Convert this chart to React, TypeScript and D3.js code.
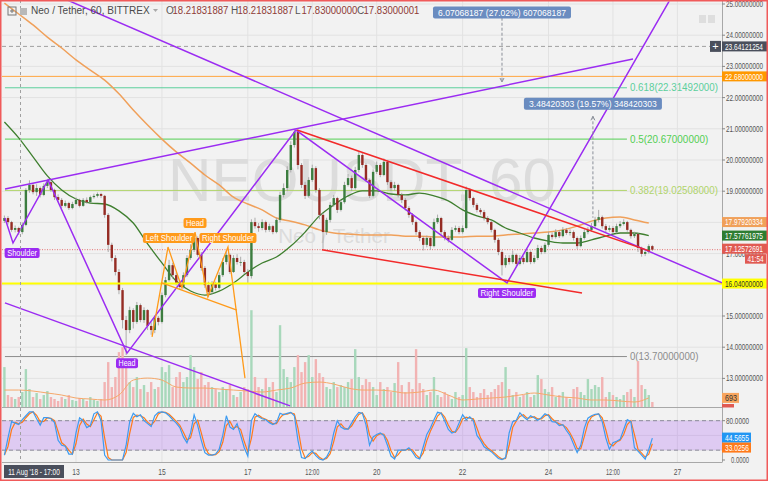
import React from "react";
import * as d3 from "d3";

const W = 768;
const H = 481;
const HOUR = 3600e3;
const T0 = Date.UTC(2018, 7, 11, 8); // first 2h candle
const AUG13 = Date.UTC(2018, 7, 13);
const AUG27 = Date.UTC(2018, 7, 27);
const FONT = "'Liberation Sans', Arial, sans-serif";

const firstOpen = 18.05;
const closes = [
  18.14, 18.01, 17.76, 17.82, 17.69, 17.92, 19.04, 19.2, 18.97, 19.1,
  18.88, 19.17, 19.29, 19.04, 18.81, 18.72, 18.53, 18.62, 18.46, 18.59,
  18.72, 18.53, 18.72, 18.65, 18.81, 18.85, 18.91, 18.85, 18.24, 17.28,
  16.86, 16.41, 15.83, 14.87, 14.55, 15.19, 14.81, 15.35, 14.87, 15.19,
  14.68, 14.55, 14.94, 14.81, 15.67, 16.15, 16.63, 16.31, 16.06, 15.93,
  16.31, 16.86, 17.12, 17.5, 16.96, 16.54, 15.99, 15.77, 16.03, 15.9,
  16.31, 16.73, 16.96, 16.41, 16.86, 16.73, 16.73, 16.41, 16.28, 18.01,
  17.88, 17.82, 18.01, 17.76, 17.88, 17.69, 18.08, 18.88, 19.1, 19.68,
  20.48, 20.9, 19.84, 19.2, 18.85, 19.36, 19.74, 19.04, 18.24, 17.69,
  18.08, 18.56, 18.78, 18.4, 18.65, 19.2, 19.42, 19.1, 19.68, 20.16,
  19.84, 19.36, 18.85, 19.62, 19.84, 19.52, 19.94, 19.29, 19.1, 19.2,
  18.88, 18.72, 18.46, 18.24, 18.01, 17.69, 17.5, 17.28, 17.5, 17.24,
  18.01, 18.14, 17.69, 17.5, 17.44, 17.76, 17.82, 17.69, 17.82, 19.04,
  18.78, 18.56, 18.4, 18.33, 18.14, 18.01, 17.76, 17.44, 17.05, 16.63,
  16.86, 16.73, 16.96, 16.67, 16.86, 16.73, 17.05, 16.73, 16.86, 17.18,
  17.05, 17.28, 17.6, 17.53, 17.69, 17.56, 17.76, 17.66, 17.69, 17.5,
  17.24, 17.5, 17.69, 17.76, 17.88, 18.08, 18.17, 17.88, 17.76, 17.82,
  17.69, 17.88, 17.95, 18.01, 17.76, 17.56, 17.63, 17.18, 16.99, 17.05,
  17.24, 17.12572691,
];
const highs = [
  18.22, 18.2, 18.05, 17.9, 17.86, 18.0, 19.1, 19.35, 19.25, 19.22,
  19.15, 19.25, 19.36, 19.32, 19.08, 18.9, 18.78, 18.7, 18.66, 18.66,
  18.8, 18.76, 18.78, 18.8, 18.86, 18.92, 18.96, 18.95, 18.88, 18.3,
  17.35, 16.95, 16.5, 15.9, 15.0, 15.3, 15.25, 15.45, 15.4, 15.28,
  15.22, 14.8, 15.02, 15.0, 15.75, 16.25, 16.8, 16.7, 16.4, 16.15,
  16.4, 16.95, 17.3, 17.6, 17.55, 17.05, 16.6, 16.1, 16.12, 16.1,
  16.4, 16.85, 17.1, 17.0, 16.95, 16.98, 16.9, 16.8, 16.5, 18.1,
  18.15, 17.98, 18.1, 18.06, 17.96, 17.92, 18.15, 18.98, 19.25, 19.8,
  20.6, 21.0, 20.95, 19.9, 19.3, 19.45, 19.85, 19.8, 19.1, 18.3,
  18.15, 18.65, 18.88, 18.82, 18.72, 19.3, 19.55, 19.5, 19.78, 20.26,
  20.22, 19.9, 19.4, 19.7, 19.95, 19.9, 20.05, 19.98, 19.35, 19.3,
  19.24, 18.95, 18.78, 18.52, 18.3, 18.06, 17.75, 17.55, 17.58, 17.55,
  18.12, 18.25, 18.18, 17.75, 17.58, 17.85, 17.9, 17.88, 17.9, 19.15,
  19.1, 18.82, 18.62, 18.46, 18.4, 18.2, 18.06, 17.8, 17.5, 17.1,
  16.95, 16.95, 17.1, 17.0, 16.95, 16.92, 17.15, 17.1, 16.95, 17.28,
  17.25, 17.35, 17.7, 17.68, 17.78, 17.75, 17.85, 17.82, 17.78, 17.74,
  17.55, 17.58, 17.78, 17.85, 17.98, 18.18, 18.4, 18.22, 17.95, 17.9,
  17.88, 17.96, 18.04, 18.1, 18.05, 17.8, 17.7, 17.66, 17.22, 17.12,
  17.3, 17.28,
];
const lows = [
  17.98, 17.93, 17.7, 17.68, 17.6, 17.62, 17.88, 18.95, 18.9, 18.85,
  18.8, 18.84, 19.1, 18.98, 18.72, 18.65, 18.45, 18.48, 18.4, 18.42,
  18.55, 18.48, 18.5, 18.6, 18.62, 18.76, 18.8, 18.78, 18.15, 17.05,
  16.75, 16.3, 15.7, 14.6, 13.75, 14.45, 14.6, 14.75, 14.8, 14.78,
  14.55, 14.4, 14.45, 14.7, 14.76, 15.6, 16.1, 16.2, 15.98, 15.85,
  15.88, 16.25, 16.8, 17.05, 16.9, 16.45, 15.9, 15.62, 15.7, 15.82,
  15.85, 16.25, 16.65, 16.35, 16.38, 16.65, 16.6, 16.35, 16.05, 16.2,
  17.8, 17.7, 17.75, 17.68, 17.7, 17.62, 17.65, 18.0, 18.8, 19.0,
  19.6, 20.4, 19.7, 19.1, 18.75, 18.8, 19.3, 18.95, 18.1, 17.15,
  17.6, 18.0, 18.5, 18.3, 18.35, 18.6, 19.15, 19.0, 19.05, 19.6,
  19.75, 19.3, 18.78, 18.8, 19.55, 19.45, 19.48, 19.2, 19.0, 19.02,
  18.8, 18.62, 18.38, 18.15, 17.92, 17.6, 17.4, 17.1, 17.2, 17.12,
  17.2, 17.95, 17.6, 17.42, 17.35, 17.4, 17.7, 17.62, 17.64, 17.78,
  18.7, 18.48, 18.32, 18.25, 18.06, 17.94, 17.68, 17.35, 16.95, 16.3,
  16.55, 16.65, 16.68, 16.6, 16.62, 16.66, 16.7, 16.66, 16.68, 16.8,
  16.98, 17.0, 17.22, 17.45, 17.48, 17.5, 17.52, 17.6, 17.58, 17.42,
  17.15, 17.2, 17.45, 17.62, 17.7, 17.82, 18.0, 17.8, 17.68, 17.7,
  17.62, 17.65, 17.82, 17.9, 17.7, 17.48, 17.5, 17.05, 16.9, 16.92,
  17.0, 17.08,
];
const volumes = [
  3040, 912, 760, 608, 760, 1140, 2888, 1368, 760, 1064,
  608, 912, 1216, 760, 608, 456, 760, 608, 912, 532,
  456, 684, 608, 456, 760, 532, 456, 608, 1900, 3420,
  1520, 2280, 4180, 4560, 3572, 1900, 1520, 2280, 1368, 1672,
  1140, 1900, 1368, 1520, 3040, 2660, 3192, 1520, 2280, 2660,
  1900, 2280, 3952, 3040, 2128, 2660, 1672, 1900, 1520, 1368,
  1140, 1520, 1368, 1672, 912, 760, 1140, 1520, 1368, 7372,
  2280, 1520, 1368, 2204, 1520, 1900, 1140, 6232, 2888, 2280,
  1900, 3040, 3952, 2660, 3420, 3952, 2280, 3648, 2584, 2280,
  1520, 1368, 1900, 1520, 1672, 1520, 1900, 2128, 4408, 2280,
  1672, 2128, 1900, 1520, 912, 1900, 1368, 1520, 1140, 1824,
  3420, 1672, 1140, 1900, 1368, 4408, 1824, 1368, 912, 1140,
  2280, 912, 760, 1140, 912, 608, 1140, 760, 912, 4484,
  1520, 1140, 760, 1064, 1368, 912, 1140, 1368, 1672, 1900,
  3040, 1368, 912, 1140, 760, 912, 1140, 760, 912, 2432,
  2128, 1368, 1140, 1520, 760, 912, 1140, 760, 608, 1368,
  1520, 1140, 912, 2128, 1368, 1672, 1520, 2280, 760, 1140,
  912, 760, 608, 912, 1140, 1368, 760, 3496, 1672, 1368,
  912, 380,
];
const stochK = [
  10, 45, 78, 75, 72, 82, 90, 98, 98, 84,
  71, 86, 86, 84, 76, 40, 30, 28, 12, 12,
  55, 86, 80, 66, 70, 94, 98, 80, 10, 0,
  0, 0, 0, 0, 30, 78, 95, 88, 92, 80,
  74, 68, 90, 97, 98, 96, 90, 82, 75, 66,
  47, 35, 55, 92, 70, 40, 15, 10, 10, 12,
  22, 50, 90, 67, 62, 74, 50, 25, 8, 80,
  94, 88, 84, 82, 76, 72, 76, 95, 92, 95,
  97, 90, 40, 5, 3, 12, 18, 9, 2, 0,
  6, 20, 55, 80, 67, 63, 63, 75, 88, 97,
  95, 72, 30, 47, 52, 55, 50, 30, 8, 2,
  20, 20, 20, 25, 16, 5, 2, 27, 52, 65,
  82, 97, 95, 80, 62, 55, 58, 75, 92, 82,
  88, 80, 50, 40, 27, 22, 17, 10, 3, 1,
  5, 55, 78, 81, 96, 88, 82, 90, 86, 81,
  86, 94, 90, 78, 77, 70, 72, 60, 50, 32,
  15, 30, 65, 85, 90, 93, 94, 78, 45, 22,
  35, 38, 42, 62, 82, 78, 25, 18, 10, 2,
  21.4857, 44.5655,
];
// moving averages, sampled every 8 hours from the first candle
const ma50 = [
  21.22, 20.71, 20.1, 19.49, 19.04, 18.75, 18.62, 18.59, 18.37, 17.98,
  17.31, 16.7, 16.12, 15.8, 15.67, 15.8, 16.06, 16.41, 16.7, 16.89,
  17.24, 17.69, 18.21, 18.56, 18.85, 19.01, 19.01, 18.91, 18.88, 18.94,
  18.85, 18.69, 18.4, 18.21, 18.08, 17.82, 17.66, 17.5, 17.4, 17.34,
  17.34, 17.44, 17.56, 17.66, 17.66, 17.57761975,
];
const ma200 = [
  25.03, 24.68, 24.33, 23.94, 23.59, 23.21, 22.88, 22.56, 22.12, 21.6,
  21.12, 20.67, 20.26, 19.9, 19.52, 19.2, 18.81, 18.59, 18.4, 18.14,
  18.04, 17.92, 17.76, 17.66, 17.63, 17.6, 17.6, 17.6, 17.56, 17.56,
  17.53, 17.53, 17.53, 17.56, 17.56, 17.6, 17.63, 17.66, 17.69, 17.76,
  17.88, 18.04, 18.14, 18.17, 18.08, 17.97920334,
];
const volMA = [
  1292, 1292, 1216, 1064, 912, 684, 608, 532, 912, 2052,
  2204, 2052, 1520, 1444, 1444, 1368, 1292, 1216, 1140, 1292,
  1444, 1824, 1900, 1748, 1444, 1292, 1292, 1216, 1064, 1140,
  1292, 912, 532, 608, 684, 760, 912, 1064, 912, 760,
  684, 532, 532, 456, 380, 693,
];

const priceTicks = [13, 14, 15, 16, 17, 18, 19, 20, 21, 22, 23, 24, 25];
const timeTicks = [
  Date.UTC(2018, 7, 13), Date.UTC(2018, 7, 15), Date.UTC(2018, 7, 17),
  Date.UTC(2018, 7, 18, 12), Date.UTC(2018, 7, 20), Date.UTC(2018, 7, 22),
  Date.UTC(2018, 7, 24), Date.UTC(2018, 7, 25, 12), Date.UTC(2018, 7, 27),
];
const timeLabels = ["13", "15", "17", "12:00", "20", "22", "24", "12:00", "27"];

// fib retracement levels: [label, price, color]
const fibLevels: [string, number, string][] = [
  ["0.618(22.31492000)", 22.31492, "#5ccf9c"],
  ["0.5(20.67000000)", 20.67, "#52cf52"],
  ["0.382(19.02508000)", 19.02508, "#b0d46a"],
  ["0(13.70000000)", 13.7, "#8c8c8c"],
];
const fibRange = [-39.7, 307.8]; // hours from Aug 13

// drawings as [hours from Aug 13, price]
const purpleLines: [number, number][][] = [
  [[-39.66, 19.07], [311.2, 23.24]],
  [[-5.03, 25.13], [360.9, 16.06]],
  [[-39.7, 15.42], [119.6, 12.12]],
];
const purpleZigzag: [number, number][] = [
  [-39.7, 18.14], [-35.2, 17.34], [-15.6, 19.36], [28.5, 13.81],
  [122.9, 20.96], [240.8, 16.06], [331.8, 25.13],
];
const redLines: [number, number][][] = [
  [[123.5, 20.96], [320.7, 17.08]],
  [[137.4, 17.12], [282.7, 15.74]],
];
const orangeHS: [number, number][] = [
  [42.5, 14.33], [51.4, 17.21], [59.2, 15.9], [66.5, 17.69],
  [73.7, 15.61], [84.9, 17.21], [94.4, 13.01],
];
const orangeNeck: [number, number][] = [[48.0, 16.06], [89.9, 15.19]];

// pattern labels: [text, hour, price, above?, width, color]
const patternLabels: [string, number, number, boolean, number, string][] = [
  ["Shoulder", -30.1, 17.34, false, 35, "#9b2cf2"],
  ["Head", 28.5, 13.81, false, 22, "#9b2cf2"],
  ["Right Shoulder", 240.8, 16.06, false, 58, "#9b2cf2"],
  ["Left Shoulder", 51.9, 17.21, true, 52, "#ff9a1a"],
  ["Head", 66.5, 17.69, true, 23, "#ff9a1a"],
  ["Right Shoulder", 84.9, 17.21, true, 57, "#ff9a1a"],
];

// price-range measurements: [text, hour, boxPrice, lineTop, lineBottom, arrowDown]
const measures: [string, number, number, number, number, boolean][] = [
  ["6.07068187 (27.02%) 607068187", 238.0, 24.73, 24.56, 22.5, true],
  ["3.48420303 (19.57%) 348420303", 288.8, 21.8, 21.4, 18.15, false],
];

const crossTime = Date.UTC(2018, 7, 11, 17);
const crossPrice = 23.64121254;
const alertPrice = 22.68;
const supportPrice = 16.04;

let measureCtx: CanvasRenderingContext2D | null = null;
function textWidth(text: string, fs: number): number {
  if (!measureCtx) measureCtx = document.createElement("canvas").getContext("2d");
  if (!measureCtx) return text.length * fs * 0.55;
  measureCtx.font = `${fs}px 'Liberation Sans', Arial, sans-serif`;
  return measureCtx.measureText(text).width;
}

// text squeezed horizontally to a given width (the reference font is narrow)
function SText(props: {
  x: number;
  y: number;
  w: number;
  fs: number;
  text: string;
  fill: string;
  anchor?: "start" | "middle" | "end";
}) {
  const { x, y, w, fs, text, fill, anchor = "start" } = props;
  const sx = Math.min(1.2, w / textWidth(text, fs));
  return (
    <text
      transform={`translate(${x},${y}) scale(${sx},1)`}
      fontSize={fs}
      fill={fill}
      textAnchor={anchor}
    >
      {text}
    </text>
  );
}

export default function App() {
  React.useEffect(() => {
    document.body.style.margin = "0";
  }, []);

  const x = d3.scaleUtc().domain([AUG13, AUG27]).range([76, 677.4]);
  const xh = (h: number) => x(new Date(AUG13 + h * HOUR));
  const y = d3.scaleLinear().domain([13, 25]).range([378.4, 4]);
  const yv = d3.scaleLinear().domain([0, 31000]).range([407, 0]);
  const ys = d3.scaleLinear().domain([0, 100]).range([460, 410.84]);

  const candles = closes.map((c, i) => ({
    t: T0 + i * 2 * HOUR,
    o: i === 0 ? firstOpen : closes[i - 1],
    c,
    h: highs[i],
    l: lows[i],
    v: volumes[i],
  }));
  const stochD = stochK.map((k, i) => (i === 0 ? k : (k + stochK[i - 1]) / 2));

  const maLine = d3
    .line<number>()
    .x((_, i) => x(new Date(T0 + i * 8 * HOUR)))
    .y((d) => y(d))
    .curve(d3.curveMonotoneX);
  const volLine = d3
    .line<number>()
    .x((_, i) => x(new Date(T0 + i * 8 * HOUR)))
    .y((d) => yv(d))
    .curve(d3.curveMonotoneX);
  const stLine = d3
    .line<number>()
    .x((_, i) => x(new Date(T0 + i * 2 * HOUR)))
    .y((d) => ys(d));
  const drawLine = d3
    .line<[number, number]>()
    .x((d) => xh(d[0]))
    .y((d) => y(d[1]));

  const up = "#3c7d3f";
  const down = "#952c24";
  const bw = 2.4;
  const bg = "#f2f2f2";
  const grid = "#e2e2e2";
  const purple = "#9b2cf2";
  const red = "#f22a2a";
  const orange = "#ff9a1a";

  const axisTag = (
    yy: number,
    text: string,
    fill: string,
    fg = "#fff",
    w = 45,
    key?: string
  ) => (
    <g key={key ?? text}>
      <rect x={722} y={yy - 5} width={w} height={10} fill={fill} />
      <SText x={725} y={yy + 3.2} w={w === 45 ? 38 : w - 5} fs={8.8} fill={fg} text={text} />
    </g>
  );

  const lastClose = closes[closes.length - 1];
  const lastK = stochK[stochK.length - 1];
  const lastD = stochD[stochD.length - 1];
  const kTagY = ys(lastK) - 0.5;
  const dTagY = Math.max(ys(lastD), kTagY + 10);
  const closeTagY = y(lastClose) - 1;

  return (
    <svg
      width={W}
      height={H}
      style={{ display: "block", position: "absolute", left: 0, top: 0 }}
      fontFamily={FONT}
    >
      <defs>
        <clipPath id="pp">
          <rect x={2} y={1.5} width={720} height={405.5} />
        </clipPath>
        <clipPath id="sp">
          <rect x={2} y={408} width={720} height={54} />
        </clipPath>
      </defs>
      <rect x={0} y={0} width={W} height={H} fill={bg} />

      {/* grid */}
      {priceTicks.map((p) => (
        <line key={"gp" + p} x1={2} x2={722} y1={y(p)} y2={y(p)} stroke={grid} />
      ))}
      {timeTicks.map((t, i) => (
        <line key={"gt" + i} x1={x(new Date(t))} x2={x(new Date(t))} y1={0} y2={462} stroke={grid} />
      ))}
      {[20, 50, 80].map((v) => (
        <line key={"gs" + v} x1={2} x2={722} y1={ys(v)} y2={ys(v)} stroke={grid} />
      ))}

      {/* watermark */}
      <SText x={362} y={201} w={388} fs={62} fill="#dcdcdc" anchor="middle" text="NEOUSDT, 60" />
      <SText x={334} y={243} w={112} fs={21} fill="#dcdcdc" anchor="middle" text="Neo / Tether" />

      <g clipPath="url(#pp)">
        {/* fib levels */}
        {fibLevels.map(([lab, p, col]) => (
          <g key={lab}>
            <line x1={xh(fibRange[0])} x2={xh(fibRange[1])} y1={y(p)} y2={y(p)} stroke={col} strokeWidth={1} />
            <SText x={xh(fibRange[1]) + 3} y={y(p) + 3.5} w={lab.length * 4.9} fs={10} fill={col} text={lab} />
          </g>
        ))}
        {/* crosshair horizontal */}
        <line x1={2} x2={722} y1={y(crossPrice)} y2={y(crossPrice)} stroke="#a0a0a0" strokeDasharray="4,3" />
        <line x1={2} x2={722} y1={y(alertPrice)} y2={y(alertPrice)} stroke="#ffa640" strokeWidth={1} />
        <line x1={2} x2={722} y1={y(lastClose)} y2={y(lastClose)} stroke="#e57373" strokeDasharray="1,1.5" />

        {/* volume */}
        {candles.map((d, i) => (
          <rect
            key={"v" + i}
            x={x(new Date(d.t)) - bw / 2}
            y={yv(d.v)}
            width={bw}
            height={407 - yv(d.v)}
            fill={d.c >= d.o ? "#a8d8bb" : "#f2b3b3"}
          />
        ))}
        <path d={volLine(volMA) || ""} fill="none" stroke="#f6a86a" strokeWidth={1} />

        {/* moving averages */}
        <path d={maLine(ma200) || ""} fill="none" stroke="#f0a05a" strokeWidth={1.5} />
        <path d={maLine(ma50) || ""} fill="none" stroke="#3f7f2f" strokeWidth={1.3} />

        {/* candles */}
        {candles.map((d, i) => {
          const cx = x(new Date(d.t));
          const col = d.c >= d.o ? up : down;
          const top = y(Math.max(d.o, d.c));
          const bot = y(Math.min(d.o, d.c));
          return (
            <g key={"c" + i}>
              <line x1={cx} x2={cx} y1={y(d.h)} y2={y(d.l)} stroke="#9a9a9a" strokeWidth={0.8} />
              <rect x={cx - bw / 2} y={top} width={bw} height={Math.max(0.8, bot - top)} fill={col} />
            </g>
          );
        })}

        {/* support */}
        <line x1={2} x2={722} y1={y(supportPrice)} y2={y(supportPrice)} stroke="#ffff00" strokeWidth={2} />

        {/* drawings */}
        {purpleLines.map((l, i) => (
          <path key={"pl" + i} d={drawLine(l) || ""} fill="none" stroke={purple} strokeWidth={1.5} />
        ))}
        <path d={drawLine(purpleZigzag) || ""} fill="none" stroke={purple} strokeWidth={1.5} />
        {redLines.map((l, i) => (
          <path key={"rl" + i} d={drawLine(l) || ""} fill="none" stroke={red} strokeWidth={1.5} />
        ))}
        <path d={drawLine(orangeHS) || ""} fill="none" stroke={orange} strokeWidth={1.3} />
        <path d={drawLine(orangeNeck) || ""} fill="none" stroke={orange} strokeWidth={1.3} />

        {/* measurements */}
        {measures.map(([txt, h, bp, lt, lb, down_], i) => {
          const mx = xh(h);
          const ay = down_ ? y(lb) : y(lt);
          return (
            <g key={"m" + i}>
              <line x1={mx} x2={mx} y1={y(lt)} y2={y(lb)} stroke="#8a8f99" strokeDasharray="3,2" />
              <path
                d={down_ ? `M${mx - 2},${ay - 4}L${mx},${ay}L${mx + 2},${ay - 4}` : `M${mx - 2},${ay + 4}L${mx},${ay}L${mx + 2},${ay + 4}`}
                fill="none"
                stroke="#8a8f99"
              />
              <rect x={mx - 69} y={y(bp) - 6} width={138} height={12} rx={2} fill="#6a8cc0" />
              <SText x={mx} y={y(bp) + 3.3} w={128} fs={9.5} fill="#fff" anchor="middle" text={txt} />
            </g>
          );
        })}

        {/* pattern labels */}
        {patternLabels.map(([txt, h, p, above, w, col], i) => {
          const cx = xh(h);
          const cy = above ? y(p) - 9 : y(p) + 10;
          return (
            <g key={"pt" + i}>
              <rect x={cx - w / 2} y={cy - 5} width={w} height={10} rx={2} fill={col} />
              <SText x={cx} y={cy + 3.3} w={w - 5} fs={9} fill="#fff" anchor="middle" text={txt} />
            </g>
          );
        })}
      </g>

      {/* stochastic pane */}
      <g clipPath="url(#sp)">
        <rect x={2} y={ys(80)} width={720} height={ys(20) - ys(80)} fill="rgba(150,60,240,0.22)" />
        <line x1={2} x2={722} y1={ys(80)} y2={ys(80)} stroke="#8c8c9a" strokeDasharray="4,3" />
        <line x1={2} x2={722} y1={ys(20)} y2={ys(20)} stroke="#8c8c9a" strokeDasharray="4,3" />
        <path d={stLine(stochD) || ""} fill="none" stroke="#ff7a1a" strokeWidth={1.2} />
        <path d={stLine(stochK) || ""} fill="none" stroke="#3d9bf0" strokeWidth={1.2} />
      </g>

      {/* crosshair vertical */}
      <line x1={x(new Date(crossTime))} x2={x(new Date(crossTime))} y1={0} y2={462} stroke="#a0a0a0" strokeDasharray="3,3" />

      {/* pane borders */}
      <line x1={2} x2={722} y1={407.5} y2={407.5} stroke="#a8a8a8" />
      <line x1={2} x2={722} y1={462.5} y2={462.5} stroke="#a8a8a8" />
      <line x1={722.5} x2={722.5} y1={0} y2={462.5} stroke="#a8a8a8" />

      {/* price axis */}
      {priceTicks.map((p) => (
        <g key={"pa" + p}>
          <line x1={722} x2={725} y1={y(p)} y2={y(p)} stroke="#888" />
          <SText x={726} y={y(p) + 3} w={37} fs={8.8} fill="#555" text={p.toFixed(8)} />
        </g>
      ))}
      {[80, 0].map((v) => (
        <g key={"sa" + v}>
          <line x1={722} x2={725} y1={ys(v)} y2={ys(v)} stroke="#888" />
          <SText x={749} y={ys(v) + 3} w={v === 80 ? 23 : 18} fs={8.8} fill="#555" anchor="end" text={v.toFixed(4)} />
        </g>
      ))}

      {/* axis tags */}
      <rect x={710} y={y(crossPrice) - 5.5} width={11} height={11} fill="#4a4f5c" />
      <text x={715.5} y={y(crossPrice) + 3.5} fontSize={11} fill="#fff" textAnchor="middle">+</text>
      {axisTag(y(crossPrice), crossPrice.toFixed(8), "#4a4f5c")}
      {axisTag(y(alertPrice), alertPrice.toFixed(8), "#ff9800")}
      {axisTag(y(ma200[ma200.length - 1]) - 1, ma200[ma200.length - 1].toFixed(8), "#f0a05a")}
      {axisTag(y(ma50[ma50.length - 1]), ma50[ma50.length - 1].toFixed(8), "#2e7d32")}
      {axisTag(closeTagY, lastClose.toFixed(8), "#e05a52")}
      <rect x={745} y={closeTagY + 5.5} width={21} height={9.5} fill="#e05a52" />
      <SText x={747.5} y={closeTagY + 13} w={16} fs={8.5} fill="#fff" text="41:54" />
      {axisTag(y(supportPrice), supportPrice.toFixed(8), "#ffff00", "#333")}
      <rect x={722} y={404} width={12} height={3.5} fill="#e05a52" />
      {axisTag(yv(volMA[volMA.length - 1]), String(volMA[volMA.length - 1]), "#f8a55e", "#333", 17, "vm")}
      {axisTag(kTagY, lastK.toFixed(4), "#2196f3", "#fff", 29, "sk")}
      {axisTag(dTagY, lastD.toFixed(4), "#ff7a1a", "#fff", 29, "sd")}

      {/* time axis */}
      {timeTicks.map((t, i) => (
        <SText
          key={"tl" + i}
          x={x(new Date(t))}
          y={475}
          w={timeLabels[i].length > 2 ? 14 : 7.5}
          fs={9}
          fill="#555"
          anchor="middle"
          text={timeLabels[i]}
        />
      ))}
      <rect x={4} y={465} width={60} height={13} fill="#4a4f5c" />
      <SText x={34} y={474.5} w={52} fs={9} fill="#fff" anchor="middle" text="11 Aug '18 - 17:00" />

      {/* header */}
      <rect x={8} y={7} width={8} height={8} fill="none" stroke="#777" />
      <line x1={10} x2={14} y1={11} y2={11} stroke="#777" />
      <line x1={12} x2={12} y1={9} y2={13} stroke="#777" />
      <rect x={20} y={8} width={7} height={7} fill="#b8b8b8" />
      <SText x={31} y={14} w={119} fs={11} fill="#4a4a4a" text="Neo / Tether, 60, BITTREX" />
      <path d="M153,9L158,9L155.5,12Z" fill="#aaa" />
      {[
        ["O", 166, "18.21831887"],
        ["H", 231, "18.21831887"],
        ["L", 295, "17.83000000"],
        ["C", 357, "17.83000001"],
      ].map(([k, xx, v]) => (
        <g key={"h" + k}>
          <text x={xx as number} y={14} fontSize={10} fill="#555">{k}</text>
          <SText x={(xx as number) + 6.5} y={14} w={56} fs={10} fill="#8f3b36" text={v as string} />
        </g>
      ))}
      <rect x={699} y={15} width={7} height={8} fill="#dedede" />
      <rect x={708} y={15} width={7} height={8} fill="#dedede" />

      {/* frame */}
      <rect x={0.75} y={0.75} width={W - 1.5} height={H - 1.5} fill="none" stroke="#f05a5a" strokeWidth={1.5} />
    </svg>
  );
}
